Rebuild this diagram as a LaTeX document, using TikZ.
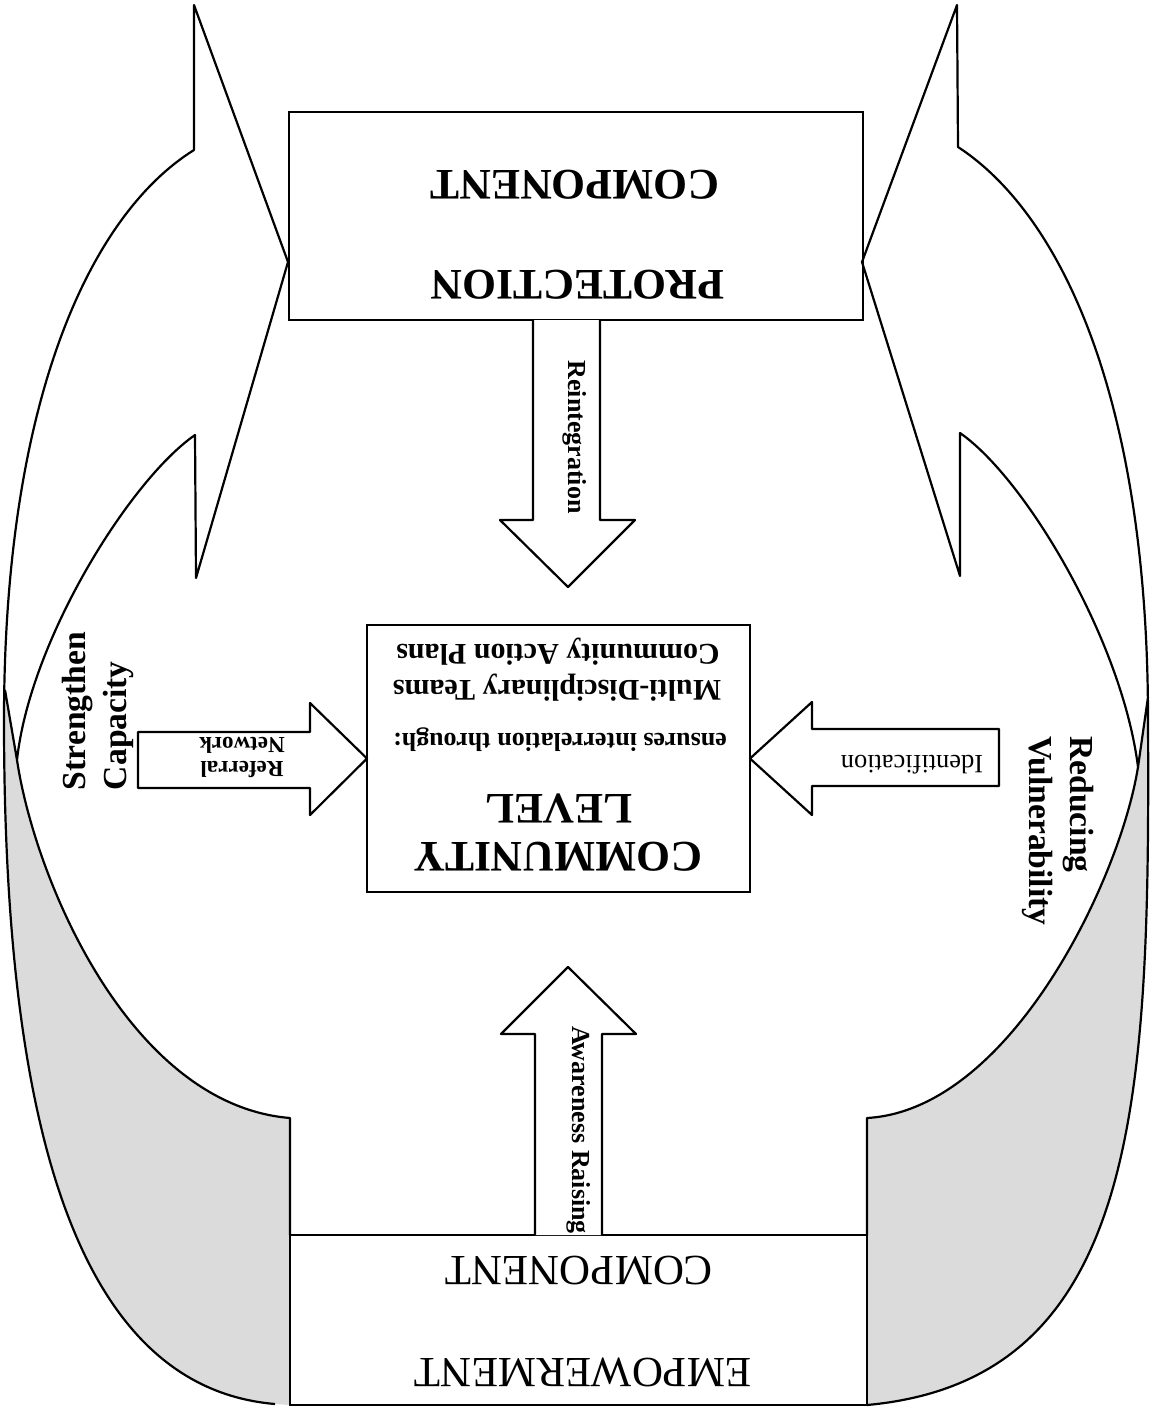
\documentclass[tikz,border=0pt]{standalone}
\usepackage{fontspec}
\setmainfont{Liberation Serif}
\begin{document}
\begin{tikzpicture}[x=0.5pt,y=-0.5pt,
  ln/.style={line width=1.1pt,line join=round},
  stip/.style={fill=black!14},
  box/.style={draw,line width=1.1pt,fill=white,inner sep=0pt,outer sep=0pt},
  hugeb/.style={font=\fontsize{21.8}{26}\selectfont\bfseries,inner sep=0pt},
  hugen/.style={font=\fontsize{21.5}{26}\selectfont,inner sep=0pt},
  sideb/.style={font=\fontsize{16.8}{20.5}\selectfont\bfseries,inner sep=0pt,align=left},
  midb/.style={font=\fontsize{15}{17}\selectfont\bfseries,inner sep=0pt},
  arrb/.style={font=\fontsize{13}{15}\selectfont\bfseries,inner sep=0pt},
  arrn/.style={font=\fontsize{13.2}{15}\selectfont,inner sep=0pt},
  smallb/.style={font=\fontsize{11.5}{12}\selectfont\bfseries,inner sep=0pt,align=center}
]
\useasboundingbox (0,0) rectangle (1152,1408);
\fill[white] (0,0) rectangle (1152,1408);

% ---------- boxes ----------
\node[box,minimum width=287pt,minimum height=104pt] (prot) at (576,216) {};
\node[box,minimum width=288.5pt,minimum height=85pt] (emp) at (578.5,1320) {};
\node[box,minimum width=191.5pt,minimum height=133.5pt] (comm) at (558.5,758.5) {};

% ---------- shaded (back side of the twisted bands) ----------
\fill[stip] (290,1405) -- (275,1404) .. controls (50,1385) and (4,1050) .. (4,720) -- (5,690)
  -- (17,760) .. controls (35,880) and (130,1105) .. (290,1118) -- cycle;
\fill[stip] (867,1405) .. controls (1140,1380) and (1150,1100) .. (1148,720) -- (1148,697)
  -- (1138,767) .. controls (1120,880) and (1010,1110) .. (867,1118) -- cycle;

% ---------- left curved band arrow ----------
\draw[ln] (275,1404) .. controls (50,1385) and (4,1050) .. (4,720)
  .. controls (4,400) and (90,215) .. (194,150)
  -- (194,5) -- (288,262) -- (196,578) -- (195,435)
  .. controls (130,480) and (30,640) .. (17,760) -- (5,690);
\draw[ln] (17,760) .. controls (35,880) and (130,1105) .. (290,1118) -- (290,1235);

% ---------- right curved band arrow ----------
\draw[ln] (867,1405) .. controls (1140,1380) and (1150,1100) .. (1148,720)
  .. controls (1148,400) and (1062,215) .. (958,147)
  -- (957,5) -- (862,262) -- (960,576) -- (960,433)
  .. controls (1025,478) and (1122,640) .. (1138,767) -- (1148,697);
\draw[ln] (1138,767) .. controls (1120,880) and (1010,1110) .. (867,1118) -- (867,1235);

% ---------- boxes redrawn on top ----------
\draw[line width=1.1pt] (prot.north west) rectangle (prot.south east);
\draw[line width=1.1pt] (emp.north west) rectangle (emp.south east);
\draw[line width=1.1pt] (comm.north west) rectangle (comm.south east);

% ---------- block arrows ----------
\draw[ln,fill=white] (533,320) -- (533,520) -- (500,520) -- (568,587) -- (635,520) -- (600,520) -- (600,320);
\draw[ln,fill=white] (535,1235) -- (535,1034) -- (501,1034) -- (568,967) -- (636,1034) -- (602,1034) -- (602,1235);
\draw[ln,fill=white] (138,732) -- (310,732) -- (310,703) -- (comm.west) -- (310,815) -- (310,788) -- (138,788) -- cycle;
\draw[ln,fill=white] (999,729) -- (812,729) -- (812,702) -- (comm.east) -- (812,815) -- (812,786) -- (999,786) -- cycle;

% ---------- texts ----------
\node[hugeb,rotate=180] (protA) at (578,285) {PROTECTION};
\node[hugeb,rotate=180] (protB) at (575,185) {COMPONENT};
\node[hugen,rotate=180] (empA) at (583,1372) {EMPOWERMENT};
\node[hugen,rotate=180] (empB) at (579,1271) {COMPONENT};
\node[hugeb,rotate=180] (commA) at (558,857) {COMMUNITY};
\node[hugeb,rotate=180] (commB) at (559,808) {LEVEL};
\node[arrb,rotate=180] (commC) at (560,740) {ensures interrelation through:};
\node[midb,rotate=180] (commD) at (557,688) {Multi-Disciplinary Teams};
\node[midb,rotate=180] (commE) at (558,652) {Community Action Plans};

\node[arrb,rotate=-90] (reint) at (575,437) {Reintegration};
\node[arrb,rotate=-90] (aware) at (579,1130) {Awareness Raising};
\node[smallb,rotate=180] (refnet) at (242,757) {Referral\\Network};
\node[arrn,rotate=180] (ident) at (912,765) {Identification};

\node[sideb,rotate=90] (strength) at (98,711) {Strengthen\\Capacity};
\node[sideb,rotate=-90] (reduce) at (1058,831) {Reducing\\Vulnerability};
\end{tikzpicture}
\end{document}
